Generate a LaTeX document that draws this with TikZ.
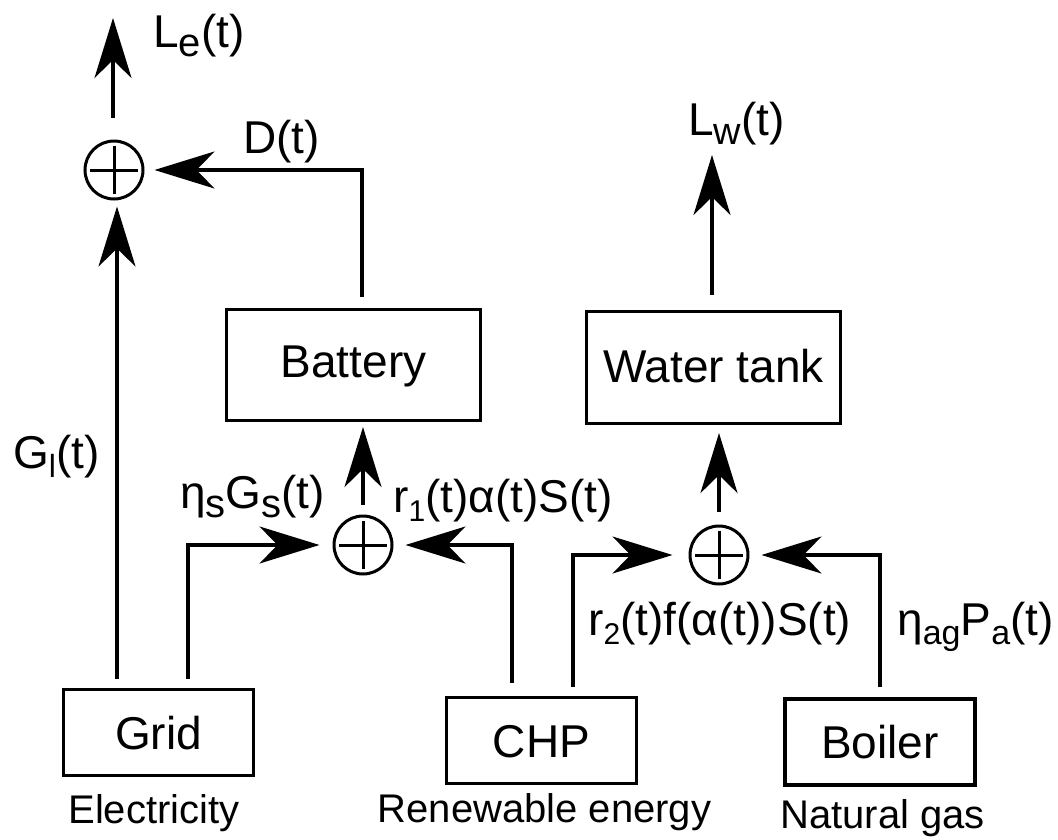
\documentclass[tikz,border=0pt]{standalone}
\usepackage{fontspec}
\setmainfont{Liberation Sans}
\usetikzlibrary{arrows.meta,calc}
\newcommand\sbs[2][36]{\raisebox{-9pt}{\fontsize{#1}{#1}\selectfont #2}}
\tikzset{
  lbl/.style={inner sep=0pt, anchor=base west, font=\fontsize{46}{50}\selectfont},
  src/.style={inner sep=0pt, anchor=base, font=\fontsize{40}{44}\selectfont},
  box/.style={draw, line width=3.1pt, inner sep=0pt, text height=33pt, text depth=0pt,
    minimum width=190pt, minimum height=86pt, font=\fontsize{46}{50}\selectfont},
  sumnode/.style={draw, circle, line width=3pt, minimum size=58pt, inner sep=0pt,
    path picture={\draw[line width=3pt]
      ([xshift=-24pt]path picture bounding box.center) -- ([xshift=24pt]path picture bounding box.center)
      ([yshift=-24pt]path picture bounding box.center) -- ([yshift=24pt]path picture bounding box.center);}},
  arr/.style={line width=3.1pt, -{Stealth[length=60pt,width=37pt,inset=18pt]}}
}
\begin{document}
\begin{tikzpicture}[x=1pt,y=-1pt]
\useasboundingbox (0,0) rectangle (1058,839);
% boxes
\node[box] (grid) at (158.5,732.5) {Grid};
\node[box] (chp) at (541.5,740.5) {CHP};
\node[box] (boiler) at (880,742) {Boiler};
\node[box, minimum width=254pt, minimum height=111pt, text height=24pt] (battery) at (353.5,365) {Battery};
\node[box, minimum width=254pt, minimum height=112pt, text height=29pt] (tank) at (713.5,367.5) {Water tank};
% sums
\node[sumnode] (s1) at (114,170) {};
\node[sumnode] (s2) at (363,545) {};
\node[sumnode] (s3) at (719,555) {};
% source labels
\node[src] (tel) at (154,823) {Electricity};
\node[src] (tre) at (544.5,822) {Renewable energy};
\node[src] (tng) at (882.5,828) {Natural gas};
% free ends
\coordinate (le) at (113,18);
\coordinate (lw) at (712,155);
% connectors
\draw[arr, shorten <=22pt] (s1.north -| le) -- (le);
\draw[arr, shorten <=11pt, shorten >=10pt] ([xshift=8.5pt]battery.north) |- (s1.east);
\draw[arr, shorten <=9pt, shorten >=6pt] ([xshift=-41.5pt]grid.north) -- ([xshift=-41.5pt]grid.north |- s1.south);
\draw[arr, shorten <=9pt, shorten >=13pt] ([xshift=29.5pt]grid.north) |- (s2.west);
\draw[arr, shorten <=13pt, shorten >=12pt] ([xshift=-29.5pt]chp.north) |- (s2.east);
\draw[arr, shorten <=10pt, shorten >=5pt] (s2.north) -- (s2.north |- battery.south);
\draw[arr, shorten <=9pt, shorten >=16pt] ([xshift=31.5pt]chp.north) |- (s3.west);
\draw[arr, shorten <=10pt, shorten >=12pt] (boiler.north) |- (s3.east);
\draw[arr, shorten <=13pt, shorten >=8pt] (s3.north) -- (s3.north |- tank.south);
\draw[arr, shorten <=15pt] (tank.north -| lw) -- (lw);
% labels
\node[lbl] (lLe) at (153,47) {L\sbs[40]{e}(t)};
\node[lbl] (lD) at (243,153) {D(t)};
\node[lbl] (lLw) at (688,135) {L\sbs[38]{w}(t)};
\node[lbl] (lGl) at (13,468) {G\sbs[32]{l}(t)};
\node[lbl] (lGs) at (180,508) {η\sbs[40]{s}G\sbs[40]{s}(t)};
\node[lbl] (lr1) at (393,512) {r\sbs[30]{1}(t)α(t)S(t)};
\node[lbl] (lr2) at (588,635) {r\sbs[30]{2}(t)f(α(t))S(t)};
\node[lbl] (leta) at (897,635) {η\sbs[34]{ag}P\sbs[34]{a}(t)};
\end{tikzpicture}
\end{document}
